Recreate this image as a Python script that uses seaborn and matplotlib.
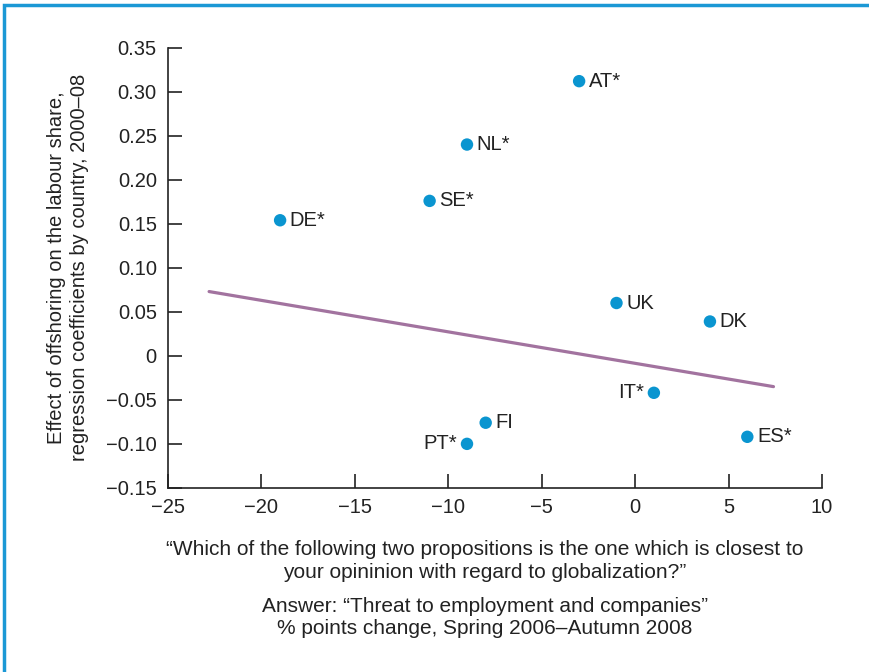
import matplotlib
matplotlib.use("Agg")
import matplotlib.pyplot as plt
import seaborn as sns
import pandas as pd
from matplotlib.patches import Rectangle

# values
countries = ["AT*", "NL*", "SE*", "DE*", "UK", "DK", "IT*", "ES*", "FI", "PT*"]
opinion_change = [-3.0, -9.0, -11.0, -19.0, -1.0, 4.0, 1.0, 6.0, -8.0, -9.0]
offshoring_effect = [0.312, 0.240, 0.176, 0.154, 0.060, 0.039, -0.042, -0.092, -0.076, -0.100]
label_side = ["right", "right", "right", "right", "right", "right", "left", "right", "right", "left"]

fit_x = [-22.8, 7.4]
fit_y = [0.073, -0.035]

x_ticks = [-25, -20, -15, -10, -5, 0, 5, 10]
x_tick_labels = ["\u221225", "\u221220", "\u221215", "\u221210", "\u22125", "0", "5", "10"]
y_ticks = [0.35, 0.30, 0.25, 0.20, 0.15, 0.10, 0.05, 0, -0.05, -0.10, -0.15]
y_tick_labels = ["0.35", "0.30", "0.25", "0.20", "0.15", "0.10", "0.05", "0",
                 "\u22120.05", "\u22120.10", "\u22120.15"]

df = pd.DataFrame({"country": countries, "x": opinion_change, "y": offshoring_effect,
                   "side": label_side})
fit = pd.DataFrame({"x": fit_x, "y": fit_y})

sns.set_style("ticks")
plt.rcParams["font.family"] = ["Liberation Sans", "DejaVu Sans"]

fig = plt.figure(figsize=(8.69, 6.72), dpi=100)
ax = fig.add_axes([0.1933, 0.274, 0.7527, 0.655])

sns.lineplot(data=fit, x="x", y="y", ax=ax, color="#a2739f", linewidth=2.3)
sns.scatterplot(data=df, x="x", y="y", ax=ax, color="#0a95d0", s=80,
                edgecolor="none", zorder=3)

for _, row in df.iterrows():
    if row["side"] == "right":
        ax.annotate(row["country"], (row["x"], row["y"]), xytext=(7, 0),
                    textcoords="offset points", ha="left", va="center",
                    fontsize=14.5, color="#222222")
    else:
        ax.annotate(row["country"], (row["x"], row["y"]), xytext=(-7, 0),
                    textcoords="offset points", ha="right", va="center",
                    fontsize=14.5, color="#222222")

ax.set_xlim(-25, 10)
ax.set_ylim(-0.15, 0.35)
ax.set_xticks(x_ticks)
ax.set_xticklabels(x_tick_labels)
ax.set_yticks(y_ticks)
ax.set_yticklabels(y_tick_labels)
ax.tick_params(direction="in", length=10, width=1.2, labelsize=14.5,
               colors="#222222")
ax.tick_params(axis="y", pad=8)
ax.tick_params(axis="x", pad=7)
sns.despine(ax=ax)
for side in ["left", "bottom"]:
    ax.spines[side].set_linewidth(1.2)
    ax.spines[side].set_color("#222222")

ax.set_xlabel("")
ax.set_ylabel("Effect of offshoring on the labour share,\n"
              "regression coefficients by country, 2000\u201308",
              fontsize=14.5, color="#222222", labelpad=12, linespacing=1.3)

fig.text(0.558, 0.165,
         "\u201cWhich of the following two propositions is the one which is closest to\n"
         "your opininion with regard to globalization?\u201d",
         ha="center", va="center", fontsize=15, color="#222222", linespacing=1.25)
fig.text(0.558, 0.081,
         "Answer: \u201cThreat to employment and companies\u201d\n"
         "% points change, Spring 2006\u2013Autumn 2008",
         ha="center", va="center", fontsize=15, color="#222222", linespacing=1.25)

fig.patches.append(Rectangle((0.005, -0.05), 1.1, 1.043, transform=fig.transFigure,
                             fill=False, edgecolor="#1b98d5", linewidth=2.5))

fig.savefig("out.png", dpi=100, facecolor="white")
